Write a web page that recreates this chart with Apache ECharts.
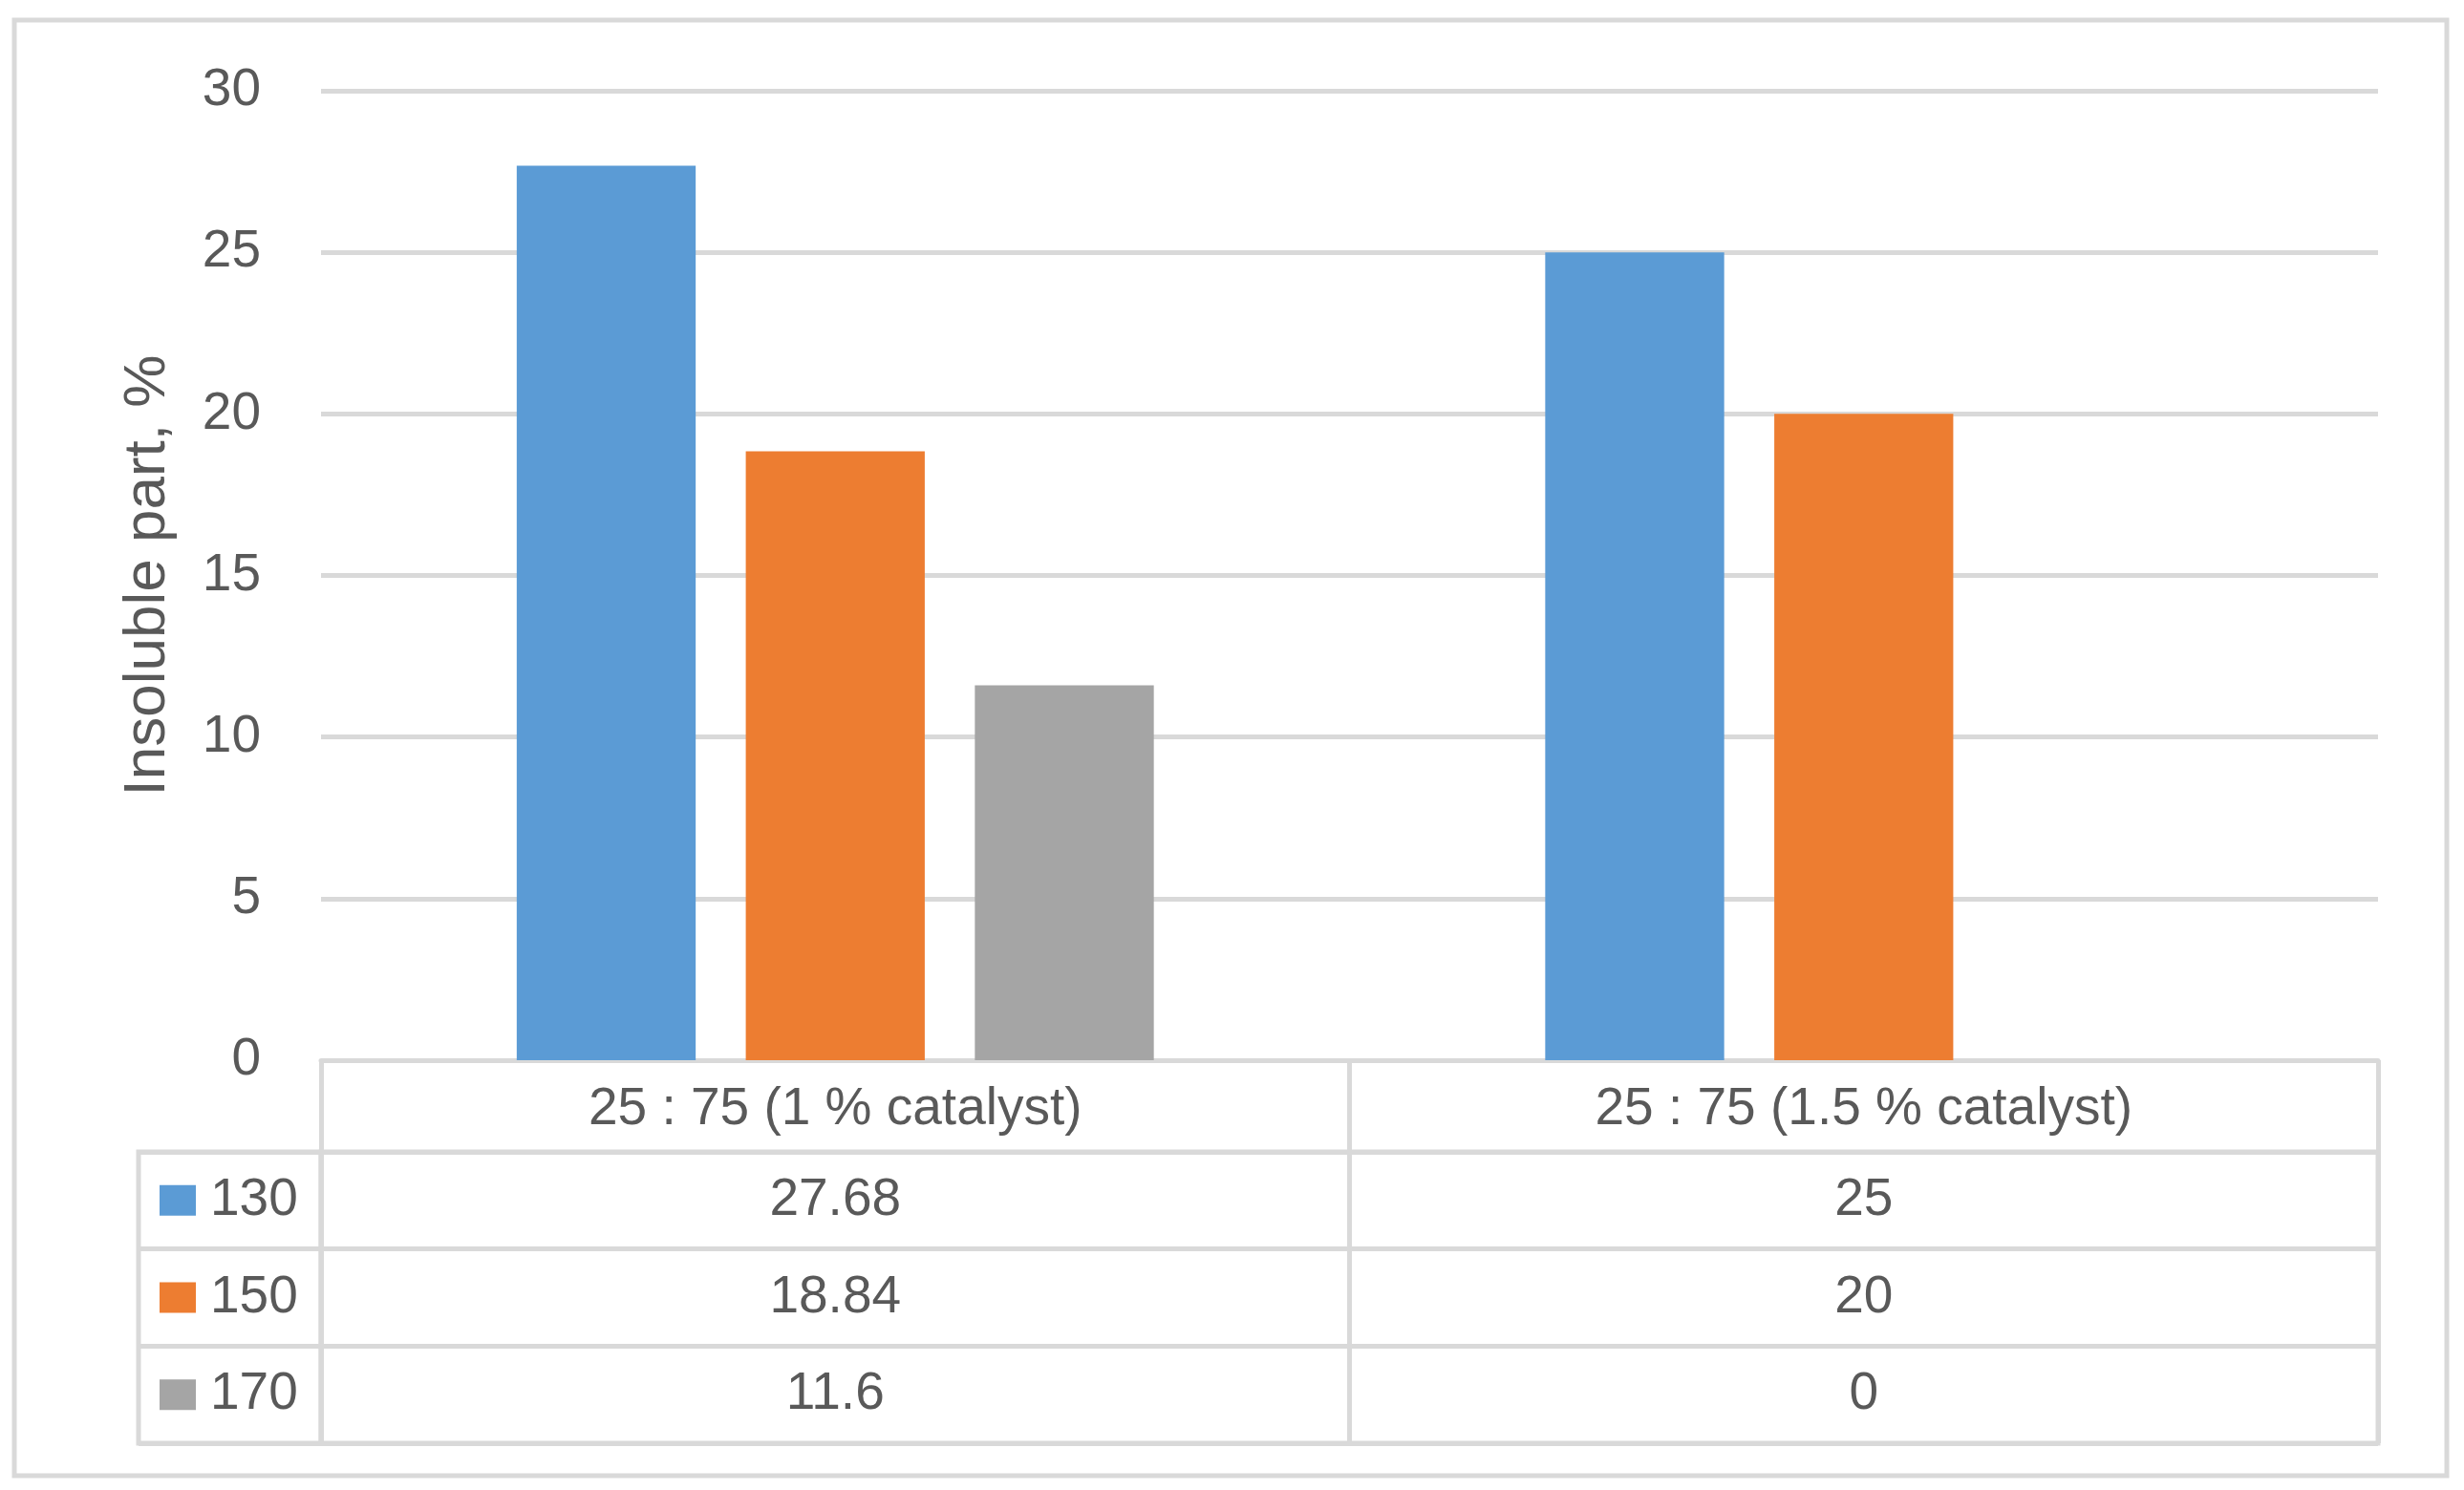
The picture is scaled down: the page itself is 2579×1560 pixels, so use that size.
<!DOCTYPE html>
<html>
<head>
<meta charset="utf-8">
<script src="https://cdn.jsdelivr.net/npm/echarts@6/dist/echarts.min.js"></script>
<style>
html,body{margin:0;padding:0;background:#fff;}
#c{width:2579px;height:1560px;}
</style>
</head>
<body>
<div id="c"></div>
<script>
const categories = ['25 : 75 (1 % catalyst)', '25 : 75 (1.5 % catalyst)'];
const seriesNames = ['130', '150', '170'];
const values130 = [27.68, 25];
const values150 = [18.84, 20];
const values170 = [11.6, 0];
const yTicks = { min: 0, max: 30, interval: 5 };
const yAxisName = 'Insoluble part, %';

const seriesValues = [values130, values150, values170];
const colors = ['#5B9BD5', '#ED7D31', '#A5A5A5'];
const textColor = '#595959';
const lineColor = '#D9D9D9';
const FONT = '"Liberation Sans", Arial, sans-serif';
const FS = 55;

const cellData = [];
seriesValues.forEach((vals, r) => vals.forEach((v, c) => cellData.push([c, r, v])));

const rich = { t: { color: textColor, fontSize: FS, fontFamily: FONT, padding: [0, 0, 0, 15] } };
colors.forEach((col, i) => { rich['m' + i] = { backgroundColor: col, width: 38, height: 32 }; });

const chart = echarts.init(document.getElementById('c'), null, { renderer: 'canvas' });
chart.setOption({
  backgroundColor: '#fff',
  animation: false,
  textStyle: { fontFamily: FONT },
  graphic: [{
    type: 'rect', shape: { x: 15, y: 21, width: 2546, height: 1524 },
    style: { fill: 'none', stroke: lineColor, lineWidth: 5 }, silent: true
  }],
  grid: [
    { left: 336, right: 90, top: 95, bottom: 450 },
    { left: 336, right: 90, top: 1206, bottom: 49, show: true, borderColor: lineColor, borderWidth: 5, backgroundColor: 'transparent' },
    { left: 145, width: 191, top: 1206, bottom: 49, show: true, borderColor: lineColor, borderWidth: 5, backgroundColor: 'transparent' }
  ],
  xAxis: [
    {
      type: 'category', gridIndex: 0, data: categories,
      axisLine: { show: true, lineStyle: { color: lineColor, width: 5 } },
      axisTick: { show: true, length: 96, lineStyle: { color: lineColor, width: 5 } },
      axisLabel: { color: textColor, fontSize: FS, fontFamily: FONT, margin: 24 },
      splitLine: { show: false }
    },
    {
      type: 'category', gridIndex: 1, data: categories,
      axisLine: { show: false }, axisTick: { show: false }, axisLabel: { show: false },
      splitLine: { show: true, interval: 0, lineStyle: { color: lineColor, width: 5 } }
    },
    { type: 'value', gridIndex: 2, show: false }
  ],
  yAxis: [
    {
      type: 'value', gridIndex: 0, min: yTicks.min, max: yTicks.max, interval: yTicks.interval,
      name: yAxisName, nameLocation: 'middle', nameGap: 150, nameRotate: 90,
      nameTextStyle: { color: textColor, fontSize: 62, fontFamily: FONT },
      axisLine: { show: false }, axisTick: { show: false },
      axisLabel: { color: textColor, fontSize: FS, fontFamily: FONT, margin: 63 },
      splitLine: { show: true, lineStyle: { color: lineColor, width: 5 } }
    },
    {
      type: 'category', gridIndex: 1, data: seriesNames, inverse: true,
      axisLine: { show: false }, axisTick: { show: false }, axisLabel: { show: false },
      splitLine: { show: true, interval: 0, lineStyle: { color: lineColor, width: 5 } }
    },
    {
      type: 'category', gridIndex: 2, data: seriesNames, inverse: true,
      axisLine: { show: false }, axisTick: { show: false },
      axisLabel: {
        inside: true, margin: 22, align: 'left',
        formatter: (v, i) => '{m' + i + '|}{t|' + v + '}', rich: rich
      },
      splitLine: { show: true, interval: 0, lineStyle: { color: lineColor, width: 5 } }
    }
  ],
  series: seriesNames.map((n, i) => ({
    name: n, type: 'bar', xAxisIndex: 0, yAxisIndex: 0,
    data: seriesValues[i], itemStyle: { color: colors[i] },
    barWidth: '17.4%', barGap: '28%'
  })).concat([{
    type: 'scatter', xAxisIndex: 1, yAxisIndex: 1, symbolSize: 0,
    itemStyle: { opacity: 1 },
    data: cellData,
    label: {
      show: true, position: 'inside', color: textColor, fontSize: FS, fontFamily: FONT,
      opacity: 1,
      formatter: p => String(p.value[2])
    }
  }])
});
</script>
</body>
</html>
